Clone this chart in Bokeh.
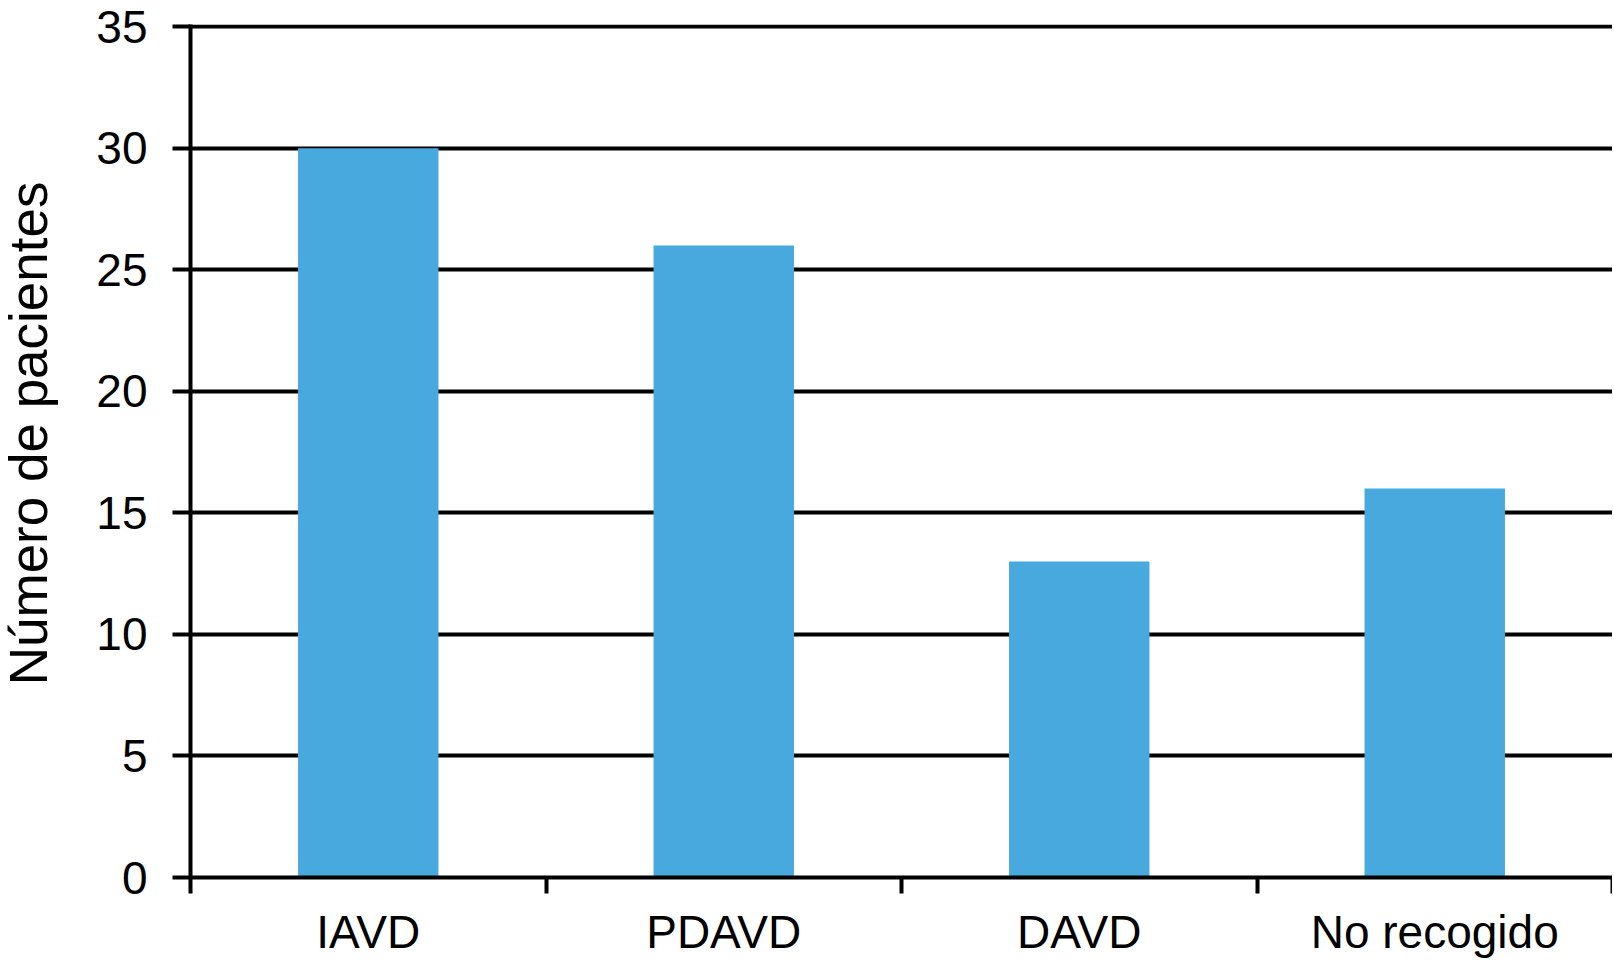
import math
from bokeh.plotting import figure
from bokeh.layouts import row
from bokeh.models import Range1d, FixedTicker
from bokeh.core.properties import value
from bokeh.embed import file_html
from bokeh.resources import INLINE

categories = ["IAVD", "PDAVD", "DAVD", "No recogido"]
pacientes = [30, 26, 13, 16]
y_ticks = [0, 5, 10, 15, 20, 25, 30, 35]
y_title = "Número de pacientes"

centers = [i + 0.5 for i in range(len(categories))]
bounds = list(range(len(categories) + 1))

FONT = "Liberation Sans"
H = 961
TOP, BOTTOM = 24, 84
LABEL_W = 60

yr = Range1d(0, 35.09)

# narrow panel that carries the vertical axis title
lab = figure(width=LABEL_W, height=H, output_backend="svg", toolbar_location=None,
             x_range=Range1d(0, LABEL_W), y_range=yr,
             min_border_left=0, min_border_right=0, min_border_top=TOP, min_border_bottom=BOTTOM)
lab.axis.visible = False
lab.grid.visible = False
lab.outline_line_color = None
lab.text(x=[27.5], y=[18.27], text=[y_title], angle=math.pi / 2,
         text_align="center", text_baseline="middle",
         text_font=value(FONT), text_font_size="53px", text_color="black")

p = figure(width=1612 - LABEL_W, height=H, output_backend="svg", toolbar_location=None,
           x_range=Range1d(0, len(categories)), y_range=yr,
           min_border_left=190 - LABEL_W, min_border_right=0,
           min_border_top=TOP, min_border_bottom=BOTTOM)
p.outline_line_color = None
p.background_fill_color = "white"
p.border_fill_color = "white"

p.vbar(x=centers, top=pacientes, width=0.395, bottom=0, color="#48A9DE", line_color=None)

p.xgrid.visible = False
p.ygrid.ticker = FixedTicker(ticks=y_ticks)
p.ygrid.grid_line_color = "black"
p.ygrid.grid_line_width = 4

# y axis
p.yaxis.ticker = FixedTicker(ticks=y_ticks)
p.yaxis.axis_line_width = 4
p.yaxis.axis_line_color = "black"
p.yaxis.major_tick_line_width = 4
p.yaxis.major_tick_out = 18
p.yaxis.major_tick_in = 0
p.yaxis.minor_tick_line_color = None
p.yaxis.major_label_standoff = 25
p.yaxis.major_label_text_font = FONT
p.yaxis.major_label_text_font_size = "46px"
p.yaxis.major_label_text_color = "black"

# x axis: labels at category centers, ticks at category boundaries
p.xaxis.ticker = FixedTicker(ticks=centers, minor_ticks=bounds)
p.xaxis.major_label_overrides = {c: l for c, l in zip(centers, categories)}
p.xaxis.axis_line_width = 4
p.xaxis.axis_line_color = "black"
p.xaxis.major_tick_line_color = None
p.xaxis.minor_tick_line_color = "black"
p.xaxis.minor_tick_line_width = 4
p.xaxis.minor_tick_out = 16
p.xaxis.minor_tick_in = 0
p.xaxis.major_tick_out = 16
p.xaxis.major_tick_in = 0
p.xaxis.major_label_standoff = 12
p.xaxis.major_label_text_font = FONT
p.xaxis.major_label_text_font_size = "46px"
p.xaxis.major_label_text_color = "black"

layout = row(lab, p, spacing=0)
open("out.html", "w").write(file_html(layout, INLINE))
